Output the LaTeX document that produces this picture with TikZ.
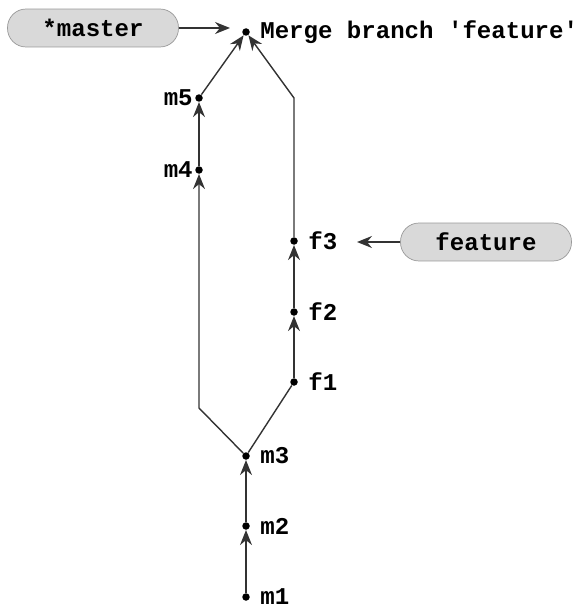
\documentclass[tikz,border=0pt]{standalone}
\usepackage{fontspec}
\setmonofont{Liberation Mono}
\usetikzlibrary{arrows.meta}
\begin{document}
\begin{tikzpicture}[x=0.02cm,y=-0.02cm,
  commit/.style={circle,fill=black,inner sep=0pt,minimum size=0.15cm},
  lbl/.style={font=\fontsize{13.7}{16}\selectfont\ttfamily\bfseries,label distance=0.08cm},
  lbll/.style={lbl,label distance=-0.08cm},
  branch/.style={draw=black!40,fill=black!15,rounded corners=0.37cm,minimum width=3.42cm,minimum height=0.76cm,font=\fontsize{13.7}{16}\selectfont\ttfamily\bfseries},
  hist/.style={draw=black!80,line width=0.8pt,-{Stealth[length=0.3cm,width=0.24cm,inset=0.1cm]}},
  plain/.style={draw=black!80,line width=0.8pt}]
\useasboundingbox (0,0) rectangle (578,608);
% commits on master
\node[commit,label={[lbl]right:m1}] (m1) at (246,597) {};
\node[commit,label={[lbl]right:m2}] (m2) at (246,526) {};
\node[commit,label={[lbl]right:m3}] (m3) at (246,456) {};
\node[commit,label={[lbll]left:m4}] (m4) at (199,170) {};
\node[commit,label={[lbll]left:m5}] (m5) at (199,98) {};
% commits on feature
\node[commit,label={[lbl]right:f1}] (f1) at (294,382) {};
\node[commit,label={[lbl]right:f2}] (f2) at (294,312) {};
\node[commit,label={[lbl]right:f3}] (f3) at (294,241) {};
% merge commit
\node[commit,label={[lbl]right:Merge branch 'feature'}] (merge) at (246,32) {};
\coordinate (bendl) at (199,408);
\coordinate (bendr) at (294,98);

\draw[hist] (m1) -- (m2);
\draw[hist] (m2) -- (m3);
\draw[hist] (m3) -- (bendl) -- (m4);
\draw[hist] (m4) -- (m5);
\draw[hist] (m5) -- (merge);
\draw[plain] (m3) -- (f1);
\draw[hist] (f1) -- (f2);
\draw[hist] (f2) -- (f3);
\draw[hist] (f3) -- (bendr) -- (merge);

% branch pointers
\node[branch] (master) at (93,28) {*master};
\node[branch] (feature) at (486,242) {feature};
\coordinate (mastertip) at (230,28);
\coordinate (featuretip) at (357,242);
\draw[hist] (master) -- (mastertip);
\draw[hist] (feature) -- (featuretip);
\end{tikzpicture}
\end{document}
